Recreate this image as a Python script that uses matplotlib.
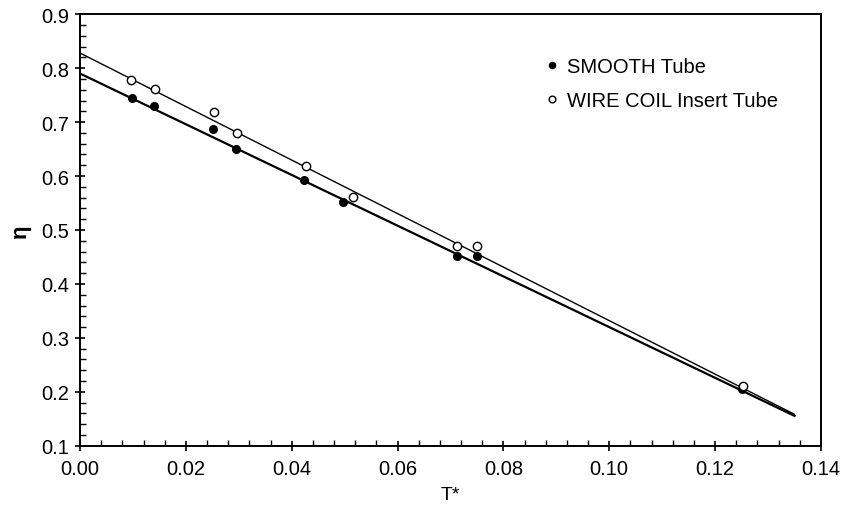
import numpy as np
import matplotlib.pyplot as plt
from matplotlib.ticker import MultipleLocator

plt.rcParams['font.family'] = ['Liberation Sans', 'DejaVu Sans']

# measured efficiency vs. dimensionless temperature parameter
t_smooth = [0.0098, 0.0139, 0.0251, 0.0295, 0.0423, 0.0496, 0.0712, 0.0751, 0.1250]
eta_smooth = [0.744, 0.729, 0.688, 0.651, 0.593, 0.551, 0.452, 0.451, 0.205]

t_wire = [0.0096, 0.0141, 0.0253, 0.0296, 0.0427, 0.0515, 0.0713, 0.0751, 0.1252]
eta_wire = [0.778, 0.762, 0.718, 0.680, 0.619, 0.562, 0.471, 0.471, 0.211]

# linear fits: eta = a + b * T*
fit_smooth = (0.790, -4.70)
fit_wire = (0.828, -4.96)
fit_range = (0.0, 0.135)


def main():
    fig = plt.figure(figsize=(8.42, 5.06), dpi=100)
    ax = fig.add_axes([0.095, 0.117, 0.880, 0.853])

    xs = np.array(fit_range)
    ax.plot(xs, fit_smooth[0] + fit_smooth[1] * xs, color='black', lw=1.6, zorder=2)
    ax.plot(xs, fit_wire[0] + fit_wire[1] * xs, color='black', lw=1.0, zorder=2)

    ax.plot(t_smooth, eta_smooth, 'o', ms=5.5, color='black', mec='black',
            label='SMOOTH Tube', zorder=3)
    ax.plot(t_wire, eta_wire, 'o', ms=6, mfc='white', mec='black', mew=1.0,
            label='WIRE COIL Insert Tube', zorder=3)

    ax.set_xlim(0, 0.14)
    ax.set_ylim(0.1, 0.9)
    ax.xaxis.set_major_locator(MultipleLocator(0.02))
    ax.xaxis.set_minor_locator(MultipleLocator(0.004))
    ax.yaxis.set_major_locator(MultipleLocator(0.1))
    ax.yaxis.set_minor_locator(MultipleLocator(0.02))
    ax.xaxis.set_major_formatter(plt.FormatStrFormatter('%.2f'))
    ax.yaxis.set_major_formatter(plt.FormatStrFormatter('%.1f'))

    ax.tick_params(which='major', direction='inout', length=7, width=1.2,
                   labelsize=14.5, pad=4)
    ax.tick_params(axis='x', which='major', pad=6)
    ax.tick_params(which='minor', direction='in', length=4, width=1.0)
    for s in ax.spines.values():
        s.set_linewidth(1.4)

    ax.set_xlabel('T*', fontsize=14, labelpad=6)
    ax.set_ylabel('η', fontsize=16, fontweight='bold', labelpad=8)

    ax.legend(loc='upper left', bbox_to_anchor=(0.629, 0.9), frameon=False,
              fontsize=14.5, handlelength=0.6, handletextpad=0.45,
              labelspacing=0.75, borderaxespad=0, borderpad=0, markerscale=0.8)

    plt.savefig('out.png', dpi=100)
    plt.close('all')


if __name__ == '__main__':
    main()
